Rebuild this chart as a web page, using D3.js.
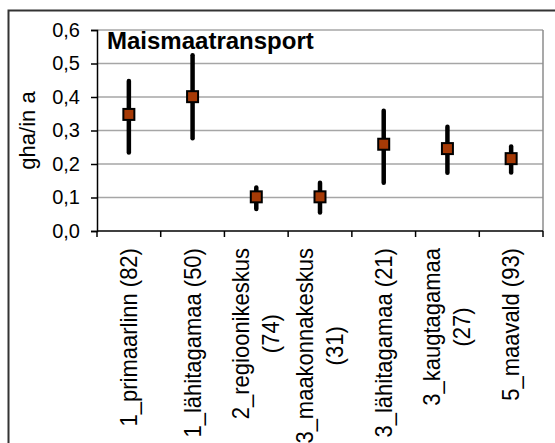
<!DOCTYPE html>
<html>
<head>
<meta charset="utf-8">
<script src="https://cdn.jsdelivr.net/npm/d3@7"></script>
<style>
  html, body { margin: 0; padding: 0; background: #fff; }
  svg { display: block; font-family: "Liberation Sans", Arial, sans-serif; }
</style>
</head>
<body>
<svg id="chart" width="555" height="443"></svg>
<script>
// Land transport footprint per settlement type: mean with spread
const chartTitle = "Maismaatransport";
const yAxisTitle = "gha/in a";
const categories = [
  ["1_primaarlinn (82)"],
  ["1_lähitagamaa (50)"],
  ["2_regioonikeskus", "(74)"],
  ["3_maakonnakeskus", "(31)"],
  ["3_lähitagamaa (21)"],
  ["3_kaugtagamaa", "(27)"],
  ["5_maavald (93)"]
];
const meanValues  = [0.348, 0.401, 0.102, 0.102, 0.259, 0.246, 0.216];
const upperValues = [0.448, 0.525, 0.130, 0.144, 0.359, 0.311, 0.252];
const lowerValues = [0.234, 0.277, 0.066, 0.055, 0.144, 0.174, 0.175];
const yTicks = [0, 0.1, 0.2, 0.3, 0.4, 0.5, 0.6];

const svg = d3.select("#chart");
const plot = { left: 97, right: 543, top: 30, bottom: 231 };

const x = d3.scaleBand()
  .domain(d3.range(categories.length))
  .range([plot.left, plot.right])
  .padding(0);
const y = d3.scaleLinear().domain([0, 0.6]).range([plot.bottom, plot.top]);
const fmt = d => d3.format(".1f")(d).replace(".", ",");

// outer chart frame
svg.append("path")
  .attr("d", "M8.5,443 V10.5 H555")
  .attr("fill", "none").attr("stroke", "#333").attr("stroke-width", 2);

// gridlines
svg.append("g").selectAll("line")
  .data(yTicks.filter(d => d > 0))
  .join("line")
  .attr("x1", plot.left).attr("x2", plot.right)
  .attr("y1", d => y(d)).attr("y2", d => y(d))
  .attr("stroke", "#a6a6a6").attr("stroke-width", 1.5);

// right edge of plot area
svg.append("line")
  .attr("x1", plot.right).attr("x2", plot.right)
  .attr("y1", plot.top).attr("y2", plot.bottom)
  .attr("stroke", "#8c8c8c").attr("stroke-width", 1.5);

// y axis
const yAxis = svg.append("g")
  .attr("transform", `translate(${plot.left},0)`)
  .call(d3.axisLeft(y).tickValues(yTicks).tickFormat(fmt).tickSize(6).tickPadding(11));
yAxis.select(".domain").attr("stroke", "#000").attr("stroke-width", 1.5);
yAxis.selectAll(".tick line").attr("stroke", "#000").attr("stroke-width", 1.5);
yAxis.selectAll("text")
  .attr("font-size", 20).attr("fill", "#000")
  .attr("font-family", "Liberation Sans, Arial, sans-serif");

// x axis with ticks at category boundaries
const xAxis = svg.append("g")
  .attr("transform", `translate(0,${plot.bottom})`);
xAxis.append("line")
  .attr("x1", plot.left).attr("x2", plot.right)
  .attr("stroke", "#000").attr("stroke-width", 1.5);
const bounds = d3.range(categories.length + 1).map(i => plot.left + i * x.bandwidth());
xAxis.selectAll(".bt").data(bounds).join("line")
  .attr("class", "bt")
  .attr("x1", d => d).attr("x2", d => d)
  .attr("y1", 0).attr("y2", 6)
  .attr("stroke", "#000").attr("stroke-width", 1.5);

// category labels, rotated, lines centered within the block
const labelTop = 248;
const lineGap = 30;
categories.forEach((lines, i) => {
  const cx = x(i) + x.bandwidth() / 2;
  const g = svg.append("g");
  const texts = lines.map(t => g.append("text")
    .attr("font-size", 22).attr("fill", "#000")
    .attr("text-anchor", "middle")
    .text(t));
  const maxLen = d3.max(texts, t => t.node().getComputedTextLength());
  const cy = labelTop + maxLen / 2;
  const n = lines.length;
  texts.forEach((t, k) => {
    const lx = cx + (k - (n - 1) / 2) * lineGap;
    t.attr("transform", `translate(${lx + 8},${cy}) rotate(-90) scale(1,1.08)`);
  });
});

// y axis title
svg.append("text")
  .attr("transform", `translate(35,${(plot.top + plot.bottom) / 2}) rotate(-90)`)
  .attr("text-anchor", "middle")
  .attr("font-size", 22).attr("fill", "#000")
  .text(yAxisTitle);

// chart title
svg.append("text")
  .attr("x", 107).attr("y", 49)
  .attr("font-size", 24).attr("font-weight", "bold").attr("fill", "#000")
  .text(chartTitle);

// error bars
svg.append("g").selectAll("line")
  .data(meanValues.map((m, i) => ({ i, lo: lowerValues[i], hi: upperValues[i] })))
  .join("line")
  .attr("x1", d => x(d.i) + x.bandwidth() / 2)
  .attr("x2", d => x(d.i) + x.bandwidth() / 2)
  .attr("y1", d => y(d.lo)).attr("y2", d => y(d.hi))
  .attr("stroke", "#000").attr("stroke-width", 4.5)
  .attr("stroke-linecap", "round");

// mean markers
const ms = 11;
svg.append("g").selectAll("rect")
  .data(meanValues)
  .join("rect")
  .attr("x", (d, i) => x(i) + x.bandwidth() / 2 - ms / 2)
  .attr("y", d => y(d) - ms / 2)
  .attr("width", ms).attr("height", ms)
  .attr("fill", "#a63a06")
  .attr("stroke", "#000").attr("stroke-width", 2);
</script>
</body>
</html>
